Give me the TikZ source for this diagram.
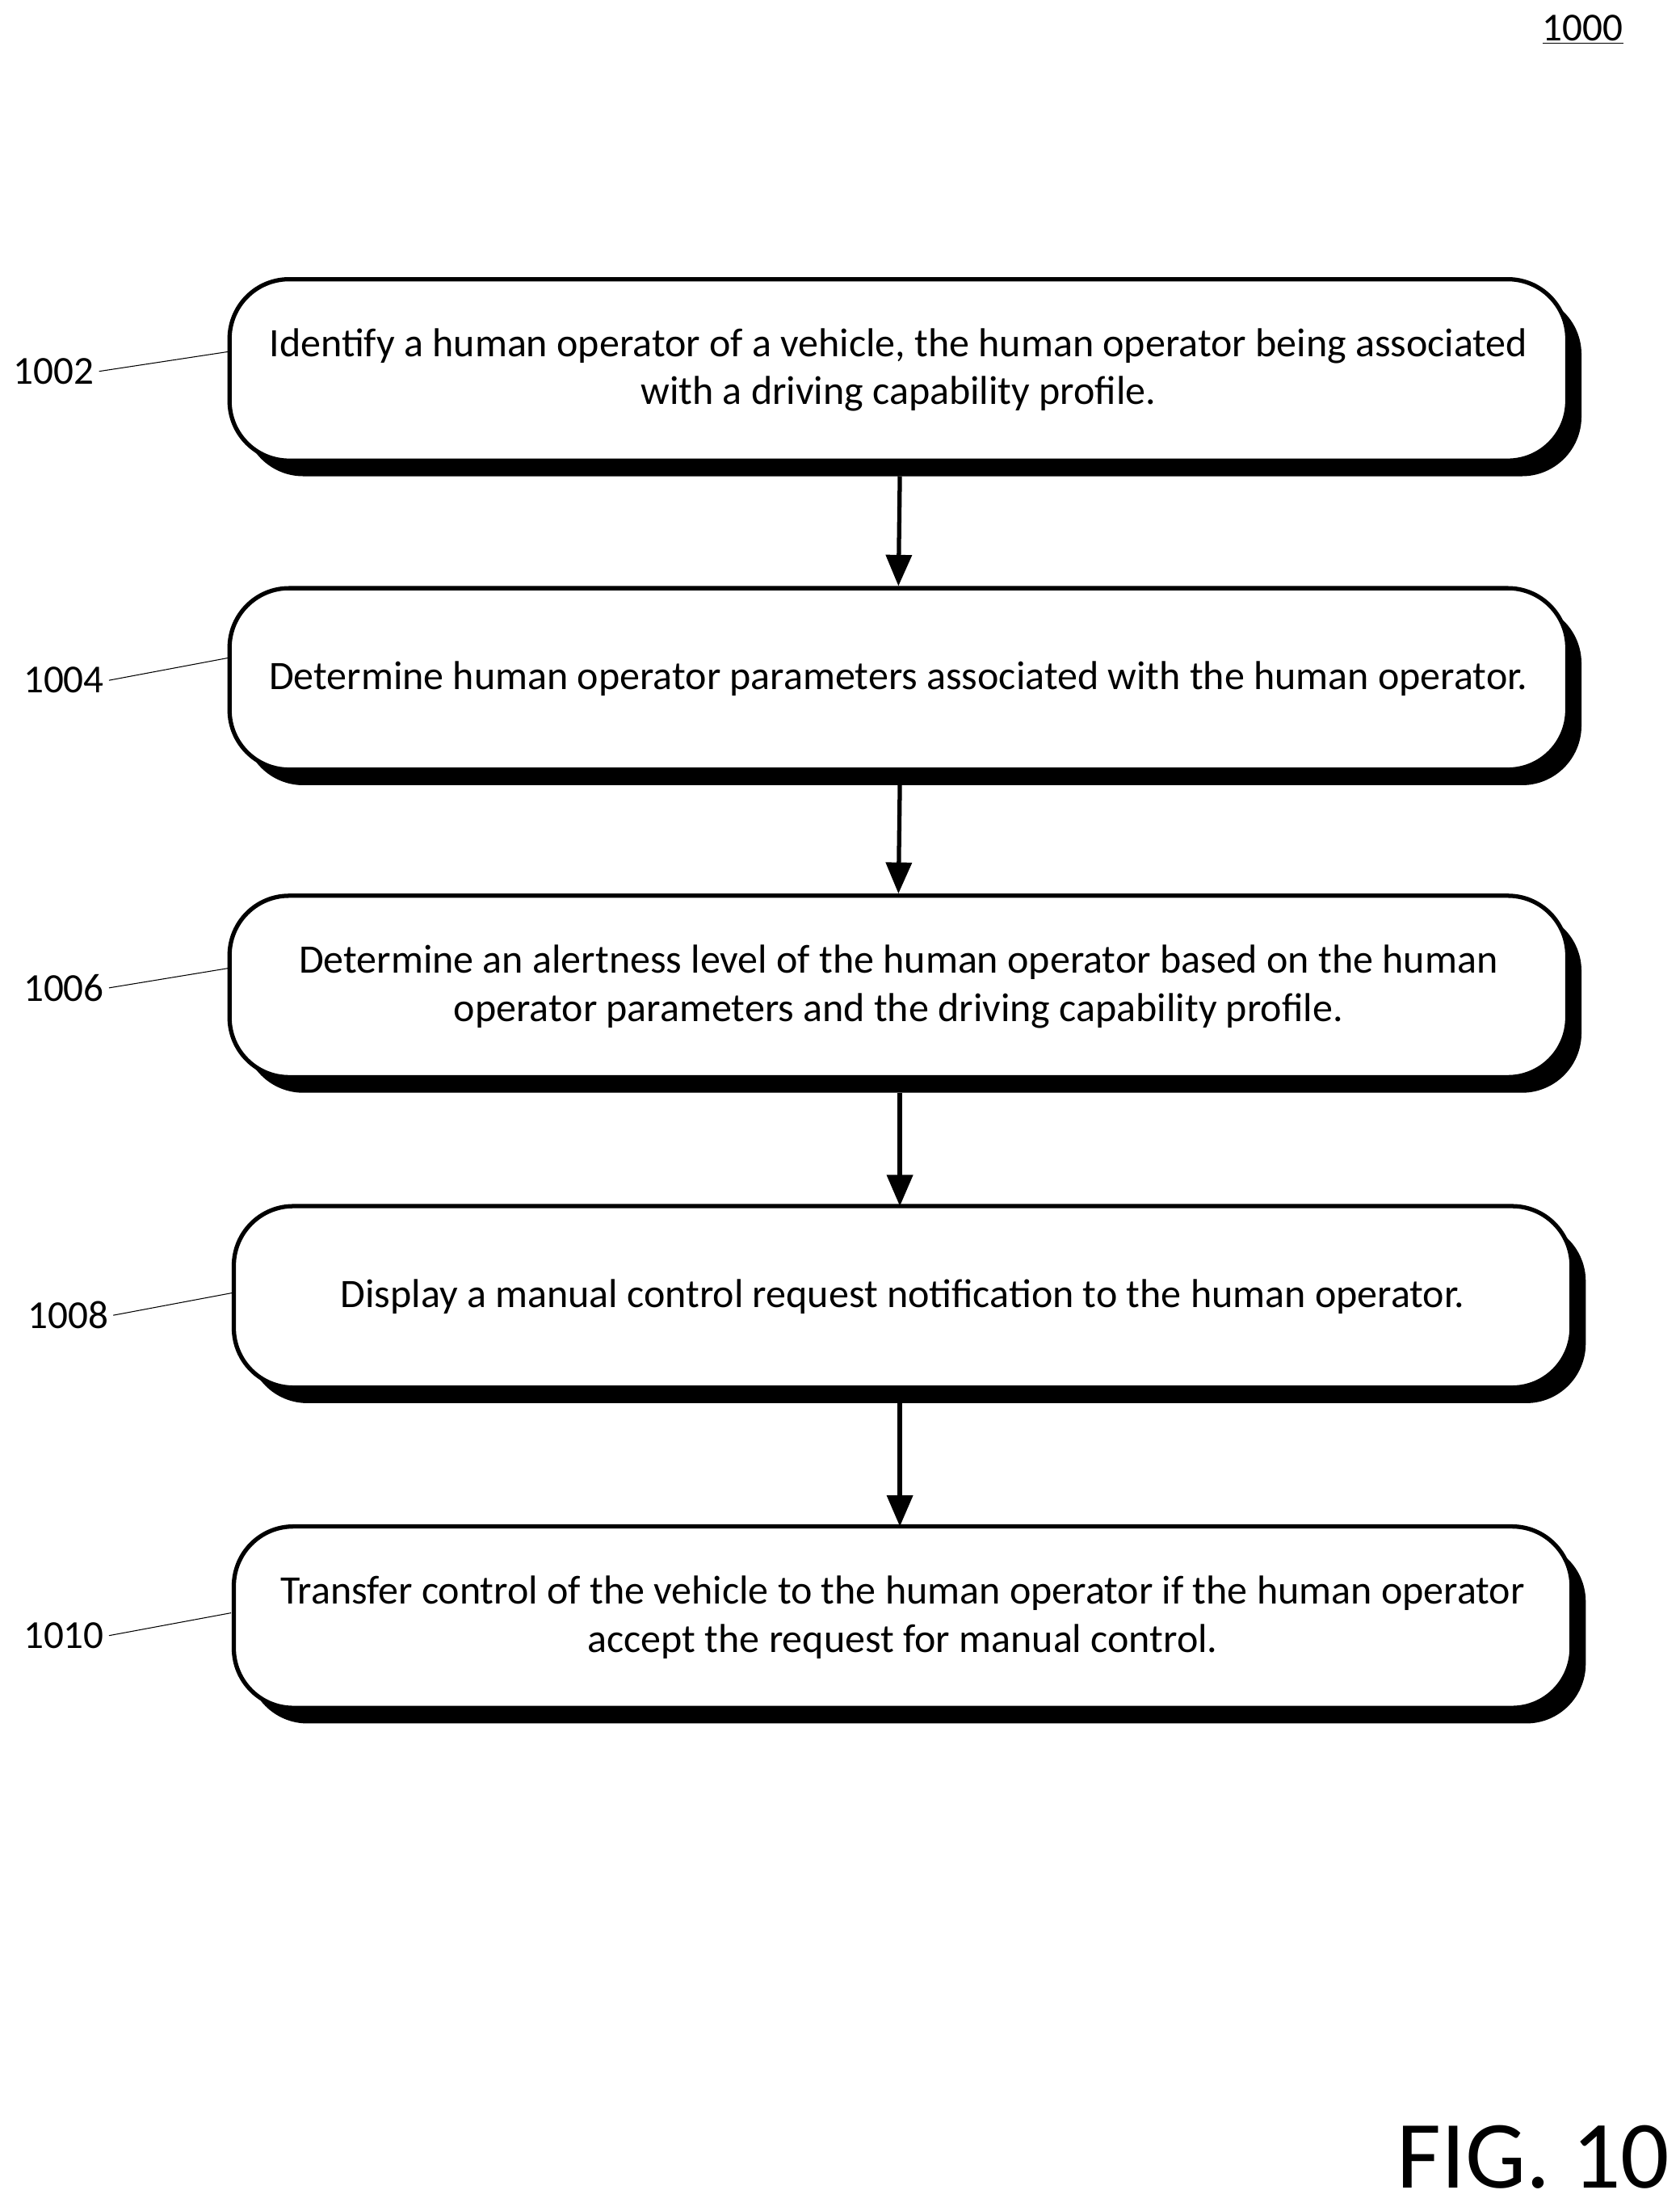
\documentclass[tikz,border=0pt]{standalone}
\usepackage{fontspec}
\setmainfont{Carlito}
\usetikzlibrary{arrows.meta}
\begin{document}
\begin{tikzpicture}[x=1pt,y=-1pt,
 stepbox/.style={draw=black,line width=3pt,fill=white,rounded corners=42pt,minimum width=944pt,minimum height=128pt,align=center,font=\fontsize{28.5}{34}\selectfont,inner sep=0pt},
 shadowbox/.style={fill=black,rounded corners=42pt,minimum width=944pt,minimum height=128pt,inner sep=0pt},
 lbl/.style={font=\fontsize{28}{30}\selectfont},
 lead/.style={line width=0.6pt},
 arr/.style={line width=3pt,-{Triangle[length=22pt,width=18pt]}}]
\useasboundingbox (0,0) rectangle (1185,1560);
\foreach \y/\x in {261/634,479/634,696/634,915/637,1141/637}{
  \node[shadowbox] at (\x+10,\y+11) {};
}
\node[stepbox] (b1) at (634,261) {Identify a human operator of a vehicle, the human operator being associated\\with a driving capability profile.};
\node[stepbox] (b2) at (634,479) {Determine human operator parameters associated with the human operator.};
\node[stepbox] (b3) at (634,696) {Determine an alertness level of the human operator based on the human\\operator parameters and the driving capability profile.};
\node[stepbox] (b4) at (637,915) {Display a manual control request notification to the human operator.};
\node[stepbox] (b5) at (637,1141) {Transfer control of the vehicle to the human operator if the human operator\\accept the request for manual control.};
\draw[arr] (635,336) -- (b2.north);
\draw[arr] (635,554) -- (b3.north);
\draw[arr] (635,771) -- (635,851);
\draw[arr] (635,990) -- (635,1077);
\node[lbl] (l1) at (38,262) {1002};
\node[lbl] (l2) at (45,480) {1004};
\node[lbl] (l3) at (45,697) {1006};
\node[lbl] (l4) at (48,928) {1008};
\node[lbl] (l5) at (45,1154) {1010};
\draw[lead] (l1.east) -- (162,248);
\draw[lead] (l2.east) -- (162,464);
\draw[lead] (l3.east) -- (162,683);
\draw[lead] (l4.east) -- (165,912);
\draw[lead] (l5.east) -- (163,1138);
\node[lbl] (n1000) at (1117,21) {\underline{1000}};
\node[font=\fontsize{68}{68}\selectfont] (fig) at (1082,1522) {FIG. 10};
\end{tikzpicture}
\end{document}
